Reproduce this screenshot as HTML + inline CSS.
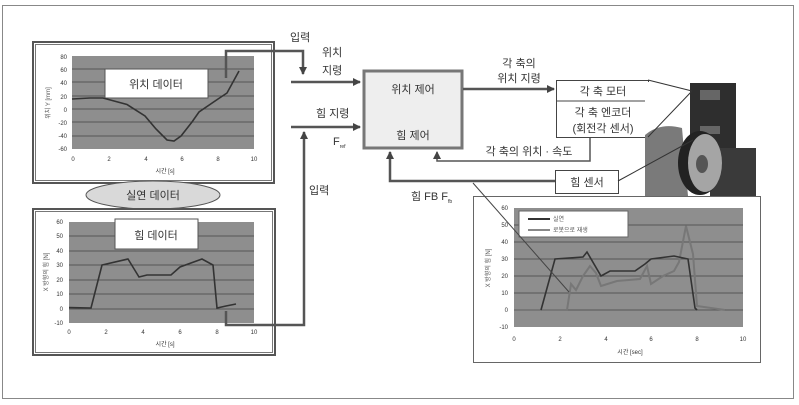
<!DOCTYPE html>
<html><head><meta charset="utf-8"><style>
html,body{margin:0;padding:0;background:#fff;}
svg{display:block;}
text{font-family:"Liberation Sans","Noto Sans CJK KR",sans-serif;fill:#333;}
.t{font-size:11px;}
.s{font-size:6px;fill:#555;}
</style></head><body>
<svg width="799" height="405" viewBox="0 0 799 405" xmlns="http://www.w3.org/2000/svg">
<defs><marker id="a" markerWidth="8" markerHeight="8" refX="7" refY="4" orient="auto" markerUnits="userSpaceOnUse"><path d="M0,0 L8,4 L0,8 z" fill="#444"/></marker></defs>
<rect x="2.5" y="5.5" width="791" height="393" fill="#fff" stroke="#888" stroke-width="1"/>

<!-- top chart -->
<rect x="33" y="42" width="241" height="141" fill="#fff" stroke="#555" stroke-width="2"/>
<rect x="35.5" y="44.5" width="236" height="136" fill="none" stroke="#777" stroke-width="1"/>
<rect x="72" y="56" width="182" height="93" fill="#8e8e8e"/>
<g stroke="#555" stroke-width="1">
<line x1="72" y1="69" x2="254" y2="69"/><line x1="72" y1="82" x2="254" y2="82"/><line x1="72" y1="96" x2="254" y2="96"/><line x1="72" y1="109" x2="254" y2="109"/><line x1="72" y1="122" x2="254" y2="122"/><line x1="72" y1="136" x2="254" y2="136"/></g>
<g class="s" text-anchor="end"><text x="67" y="59">80</text><text x="67" y="72">60</text><text x="67" y="85">40</text><text x="67" y="99">20</text><text x="67" y="112">0</text><text x="67" y="125">-20</text><text x="67" y="138">-40</text><text x="67" y="151">-60</text></g>
<g class="s" text-anchor="middle"><text x="73" y="161">0</text><text x="109" y="161">2</text><text x="146" y="161">4</text><text x="182" y="161">6</text><text x="218" y="161">8</text><text x="254" y="161">10</text><text x="165" y="173">시간 [s]</text></g>
<text class="s" transform="translate(50,103) rotate(-90)" text-anchor="middle">위치 Y [mm]</text>
<rect x="105" y="69" width="103" height="29" fill="#fff" stroke="#555"/>
<text class="t" x="156" y="88" text-anchor="middle" font-size="12">위치 데이터</text>
<polyline fill="none" stroke="#333" stroke-width="1.6" points="72,99 90,98 103,98 127,104.5 145,116 156,129 167,140 174,141 181,136 192,122 199,112 218,99 227,93 239,71"/>

<!-- ellipse -->
<ellipse cx="153" cy="195" rx="67" ry="14" fill="#d9d9d9" stroke="#555"/>
<text class="t" x="153" y="199" text-anchor="middle" font-size="12">실연 데이터</text>

<!-- force chart -->
<rect x="33" y="209" width="242" height="146" fill="#fff" stroke="#555" stroke-width="2"/>
<rect x="35.5" y="211.5" width="237" height="141" fill="none" stroke="#777" stroke-width="1"/>
<rect x="69" y="222" width="185" height="101" fill="#8e8e8e"/>
<g stroke="#555" stroke-width="1">
<line x1="69" y1="236" x2="254" y2="236"/><line x1="69" y1="251" x2="254" y2="251"/><line x1="69" y1="265" x2="254" y2="265"/><line x1="69" y1="280" x2="254" y2="280"/><line x1="69" y1="294" x2="254" y2="294"/><line x1="69" y1="309" x2="254" y2="309"/></g>
<g class="s" text-anchor="end"><text x="63" y="224">60</text><text x="63" y="238">50</text><text x="63" y="253">40</text><text x="63" y="267">30</text><text x="63" y="282">20</text><text x="63" y="296">10</text><text x="63" y="311">0</text><text x="63" y="325">-10</text></g>
<g class="s" text-anchor="middle"><text x="69" y="334">0</text><text x="106" y="334">2</text><text x="143" y="334">4</text><text x="180" y="334">6</text><text x="217" y="334">8</text><text x="254" y="334">10</text><text x="165" y="346">시간 [s]</text></g>
<text class="s" transform="translate(48,272) rotate(-90)" text-anchor="middle">X 방향의 힘 [N]</text>
<rect x="115" y="219" width="83" height="30" fill="#fff" stroke="#555"/>
<text class="t" x="156" y="239" text-anchor="middle" font-size="12">힘 데이터</text>
<polyline fill="none" stroke="#333" stroke-width="1.6" points="69,307.6 91,308 102,265 128,259 139,277 147,275 171,275 180,267 202,259 213,265 217,308 226,306 236,304"/>

<!-- arrows left -->
<g fill="none" stroke="#555" stroke-width="2.5">
<polyline points="226,78 226,51 303,51 303,74" marker-end="url(#a)"/>
<line x1="291" y1="82" x2="360" y2="82" marker-end="url(#a)"/>
<line x1="291" y1="127" x2="360" y2="127" marker-end="url(#a)"/>
<polyline points="226,311 226,325 304,325 304,132" marker-end="url(#a)"/>
</g>
<text class="t" x="290" y="41">입력</text>
<text class="t" x="322" y="56">위치</text>
<text class="t" x="322" y="74">지령</text>
<text class="t" x="316" y="117">힘 지령</text>
<text class="t" x="333" y="145">F<tspan font-size="5" dy="3">ref</tspan></text>
<text class="t" x="309" y="194">입력</text>

<!-- control box -->
<rect x="364" y="71" width="98" height="77" fill="#eeeeee" stroke="#777" stroke-width="3"/>
<text class="t" x="413" y="93" text-anchor="middle">위치 제어</text>
<text class="t" x="413" y="139" text-anchor="middle">힘 제어</text>
<g fill="none" stroke="#555" stroke-width="2.5">
<line x1="463" y1="89" x2="554" y2="89" marker-end="url(#a)"/>
</g>
<text class="t" x="519" y="67" text-anchor="middle">각 축의</text>
<text class="t" x="519" y="82" text-anchor="middle">위치 지령</text>

<!-- motor box -->
<rect x="556.5" y="80.5" width="92" height="57" fill="#fff" stroke="#444"/>
<line x1="556" y1="101" x2="648" y2="101" stroke="#444"/>
<text class="t" x="603" y="95" text-anchor="middle">각 축 모터</text>
<text class="t" x="603" y="116" text-anchor="middle">각 축 엔코더</text>
<text class="t" x="603" y="132" text-anchor="middle">(회전각 센서)</text>
<polyline fill="none" stroke="#555" stroke-width="1.5" points="590,138 590,161 437,161 437,152" marker-end="url(#a)"/>
<text class="t" x="529" y="155" text-anchor="middle">각 축의 위치 · 속도</text>
<rect x="555.5" y="170.5" width="63" height="23" fill="#fff" stroke="#444"/>
<text class="t" x="587" y="186" text-anchor="middle">힘 센서</text>
<polyline fill="none" stroke="#555" stroke-width="2.5" points="555,181 390,181 390,152" marker-end="url(#a)"/>
<text class="t" x="411" y="200">힘 FB F<tspan font-size="5" dy="3">fb</tspan></text>

<!-- photo -->
<rect x="645" y="82" width="112" height="114" fill="#fff"/>
<path d="M645,135 Q660,122 682,128 L688,196 L645,196 z" fill="#7a7a7a"/>
<rect x="690" y="83" width="46" height="70" fill="#2e2e2e"/>
<rect x="710" y="148" width="46" height="48" fill="#3a3a3a"/>
<rect x="700" y="90" width="20" height="10" fill="#666"/>
<rect x="700" y="126" width="20" height="8" fill="#666"/>
<ellipse cx="700" cy="163" rx="22" ry="32" fill="#222"/>
<ellipse cx="705" cy="163" rx="17" ry="29" fill="#a5a5a5"/>
<ellipse cx="702" cy="164" rx="6" ry="9" fill="#555"/>
<g stroke="#333" stroke-width="1"><line x1="648" y1="80" x2="692" y2="91"/><line x1="648" y1="137" x2="692" y2="91"/><line x1="618" y1="181" x2="693" y2="140"/></g>

<!-- bottom right chart -->
<rect x="473.5" y="196.5" width="287" height="166" fill="#fff" stroke="#666"/>
<rect x="514" y="208" width="229" height="119" fill="#8e8e8e"/>
<g stroke="#555" stroke-width="1">
<line x1="514" y1="225" x2="743" y2="225"/><line x1="514" y1="242" x2="743" y2="242"/><line x1="514" y1="259" x2="743" y2="259"/><line x1="514" y1="276" x2="743" y2="276"/><line x1="514" y1="293" x2="743" y2="293"/><line x1="514" y1="310" x2="743" y2="310"/></g>
<g class="s" text-anchor="end"><text x="508" y="210">60</text><text x="508" y="227">50</text><text x="508" y="244">40</text><text x="508" y="261">30</text><text x="508" y="278">20</text><text x="508" y="295">10</text><text x="508" y="312">0</text><text x="508" y="329">-10</text></g>
<g class="s" text-anchor="middle"><text x="514" y="341">0</text><text x="560" y="341">2</text><text x="606" y="341">4</text><text x="651" y="341">6</text><text x="697" y="341">8</text><text x="743" y="341">10</text><text x="630" y="354">시간 [sec]</text></g>
<text class="s" transform="translate(490,268) rotate(-90)" text-anchor="middle">X 방향의 힘 [N]</text>
<rect x="519" y="211" width="109" height="26" fill="#fff" stroke="#666"/>
<line x1="528" y1="219" x2="550" y2="219" stroke="#333" stroke-width="2"/>
<line x1="528" y1="230" x2="550" y2="230" stroke="#888" stroke-width="2"/>
<text class="s" x="553" y="221">실연</text><text class="s" x="553" y="232">로봇으로 재생</text>
<polyline fill="none" stroke="#777" stroke-width="2" points="514,310 567,310 571,284 576,290 583,276 590,266 596,273 601,286 617,281 640,279 647,266 651,284 663,276 674,271 679,262 686,226 693,254 697,306 725,310"/>
<polyline fill="none" stroke="#333" stroke-width="1.6" points="541,310 555,259 583,257 587,252 601,276 610,271 635,271 645,264 651,259 674,256 688,259 695,308 697,310"/>
<line x1="473" y1="183" x2="569" y2="292" stroke="#444" stroke-width="1"/>
</svg>
</body></html>
